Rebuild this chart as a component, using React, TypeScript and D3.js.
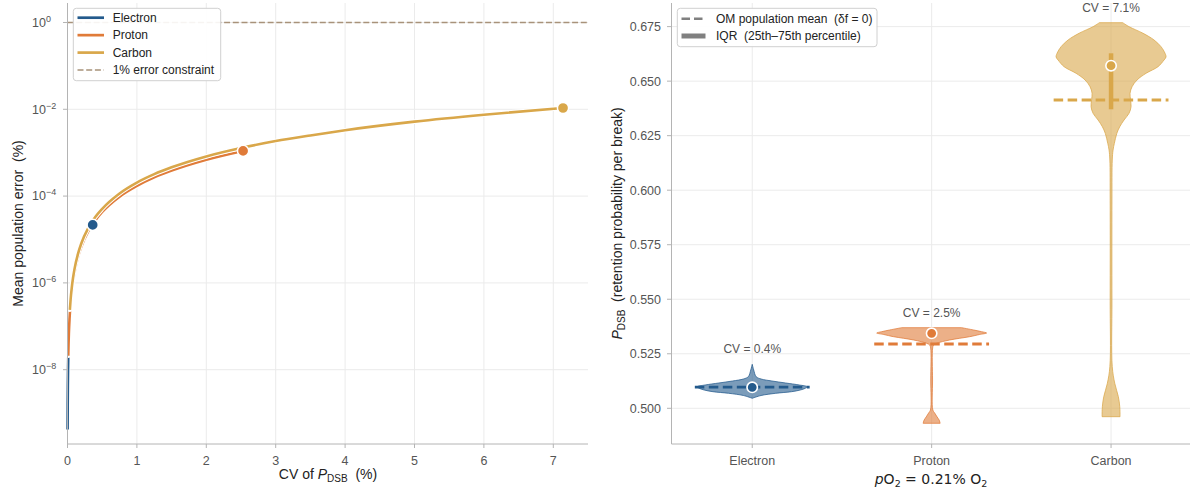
import React from 'react';
import * as d3 from 'd3';

const W = 1198, H = 495;
const FONT = '"Liberation Sans", Arial, Helvetica, sans-serif';

const species = ['Electron', 'Proton', 'Carbon'];
const colors = ['#235a8c', '#e07b39', '#d9a74a'];
const constraintColor = '#a8927a';

// ---- Left panel: mean population error vs CV ----
const electronCV = [0.0016, 0.003, 0.005, 0.008, 0.012, 0.02, 0.03, 0.05, 0.075, 0.1, 0.15, 0.2, 0.25, 0.3, 0.363];
const electronErr = [4.2e-10, 1.5e-9, 4.1e-9, 1.06e-8, 2.4e-8, 6.6e-8, 1.5e-7, 4.1e-7, 9.3e-7, 1.65e-6, 3.7e-6, 6.6e-6, 1.03e-5, 1.49e-5, 2.17e-5];

const protonCV = [0.011, 0.015, 0.02, 0.03, 0.05, 0.075, 0.1, 0.15, 0.2, 0.3, 0.4, 0.5, 0.75, 1.0, 1.25, 1.5, 2.0, 2.53];
const protonErr = [2.1e-8, 3.9e-8, 6.9e-8, 1.55e-7, 4.3e-7, 9.7e-7, 1.72e-6, 3.9e-6, 6.9e-6, 1.55e-5, 2.75e-5, 4.3e-5, 9.7e-5, 1.72e-4, 2.7e-4, 3.87e-4, 6.9e-4, 1.1e-3];

const carbonCV = [0.034, 0.045, 0.06, 0.08, 0.1, 0.15, 0.2, 0.3, 0.4, 0.5, 0.75, 1.0, 1.25, 1.5, 2.0, 2.5, 3.0, 3.5, 4.0, 5.0, 6.0, 7.14];
const carbonErr = [2.4e-7, 4.2e-7, 7.4e-7, 1.31e-6, 2.05e-6, 4.6e-6, 8.2e-6, 1.85e-5, 3.3e-5, 5.1e-5, 1.15e-4, 2.05e-4, 3.2e-4, 4.6e-4, 8.2e-4, 1.28e-3, 1.85e-3, 2.5e-3, 3.3e-3, 5.2e-3, 7.5e-3, 1.07e-2];

const constraintValue = 1.0;
const xTicksLeft = [0, 1, 2, 3, 4, 5, 6, 7];
const yTickExpLeft = [0, -2, -4, -6, -8];
const legendLeft = ['Electron', 'Proton', 'Carbon', '1% error constraint'];

// ---- Right panel: violin profiles of P_DSB ----
const electronViolinV = [0.52017, 0.51756, 0.51449, 0.51343, 0.51252, 0.5116, 0.51068, 0.5099, 0.50917, 0.50839, 0.50761, 0.50688, 0.50587, 0.50459];
const electronViolinD = [0, 1.5, 4, 9, 20, 34, 48, 56, 54, 49, 40, 24, 9, 0];

const protonViolinV = [0.53696, 0.5359, 0.53512, 0.53453, 0.53384, 0.53283, 0.53132, 0.5298, 0.52902, 0.52765, 0.51298, 0.49922, 0.49785, 0.49601, 0.49464, 0.49312];
const protonViolinD = [30, 42, 50, 55, 48, 38, 18, 5, 2, 1, 0.9, 1.2, 3, 5.5, 7.5, 8.5];

const carbonViolinV = [0.6768, 0.67497, 0.67194, 0.66887, 0.6658, 0.66277, 0.66107, 0.6597, 0.65663, 0.6536, 0.65053, 0.64745, 0.64443, 0.64136, 0.63828, 0.63526, 0.63219, 0.62911, 0.62609, 0.6215, 0.61843, 0.61385, 0.59551, 0.54966, 0.51907, 0.51146, 0.50532, 0.50073, 0.49615];
const carbonViolinD = [11.7, 18, 32, 43, 50, 54, 55, 53, 47, 35, 26, 21, 19, 19.5, 20, 18, 13, 8.7, 5.8, 3.3, 2, 1.2, 0.9, 0.9, 1.2, 3.7, 7.3, 8.7, 9];

const medians = [0.50963, 0.53439, 0.65708];
const means = [0.5097, 0.52948, 0.64136];
const q25 = [0.5093, 0.5338, 0.63709];
const q75 = [0.51, 0.5352, 0.66277];
const cvLabels = ['CV = 0.4%', 'CV = 2.5%', 'CV = 7.1%'];
const yTicksRight = [0.5, 0.525, 0.55, 0.575, 0.6, 0.625, 0.65, 0.675];
const legendRight = ['OM population mean  (δf = 0)', 'IQR  (25th–75th percentile)'];

const GRID = '#ebebeb';
const SPINE = '#b4b4b4';
const TICKTXT = '#555';

export default function App() {
  // left scales
  const xL = d3.scaleLinear().domain([0, 7.5]).range([67.5, 588]);
  const yL = d3.scaleLog().domain([Math.pow(10, -9.712), Math.pow(10, 0.449)]).range([444, 3]);
  // right scales
  const xR = d3.scaleLinear().domain([-0.45, 2.44]).range([671.5, 1190]);
  const yR = d3.scaleLinear().domain([0.48363, 0.68583]).range([444, 3]);
  const catW = xR(1) - xR(0);
  const violinHalf = 0.3064 * catW;
  const meanHalf = 0.32 * catW;

  const curves = [
    { cv: electronCV, err: electronErr },
    { cv: protonCV, err: protonErr },
    { cv: carbonCV, err: carbonErr },
  ];
  const line = d3.line<[number, number]>()
    .x((d) => xL(d[0]))
    .y((d) => yL(d[1]))
    .curve(d3.curveMonotoneX);

  const violins = [
    { v: electronViolinV, d: electronViolinD },
    { v: protonViolinV, d: protonViolinD },
    { v: carbonViolinV, d: carbonViolinD },
  ];

  const top = 3, bottom = 444;

  return (
    <svg width={W} height={H} style={{ position: 'absolute', left: 0, top: 0, background: '#fff' }} fontFamily={FONT}>
      <rect x={0} y={0} width={W} height={H} fill="#fff" />
      {/* ===== LEFT PANEL ===== */}
      <g>
        {xTicksLeft.map((t) => (
          <line key={'gx' + t} x1={xL(t)} x2={xL(t)} y1={top} y2={bottom} stroke={GRID} strokeWidth={1} />
        ))}
        {yTickExpLeft.map((e) => (
          <line key={'gy' + e} x1={67.5} x2={588} y1={yL(Math.pow(10, e))} y2={yL(Math.pow(10, e))} stroke={GRID} strokeWidth={1} />
        ))}
        <line x1={67.5} x2={588} y1={yL(constraintValue)} y2={yL(constraintValue)} stroke={constraintColor} strokeWidth={1.5} strokeDasharray="6,2.7" />
        {curves.map((c, i) => {
          const pts = c.cv.map((v, j) => [v, c.err[j]] as [number, number]);
          return (
            <g key={'c' + i}>
              <path d={line(pts) || ''} fill="none" stroke="#fff" strokeWidth={4.6} strokeLinecap="round" />
              <path d={line(pts) || ''} fill="none" stroke={colors[i]} strokeWidth={2.6} />
            </g>
          );
        })}
        {curves.map((c, i) => {
          const n = c.cv.length - 1;
          return <circle key={'dot' + i} cx={xL(c.cv[n])} cy={yL(c.err[n])} r={5.6} fill={colors[i]} stroke="#fff" strokeWidth={1.5} />;
        })}
        {/* spines */}
        <line x1={67.5} x2={67.5} y1={top} y2={bottom} stroke={SPINE} strokeWidth={1} />
        <line x1={67.5} x2={588} y1={bottom} y2={bottom} stroke={SPINE} strokeWidth={1} />
        {xTicksLeft.map((t) => (
          <g key={'xt' + t}>
            <line x1={xL(t)} x2={xL(t)} y1={bottom} y2={bottom + 4} stroke={SPINE} />
            <text x={xL(t)} y={465} textAnchor="middle" fontSize={12.5} fill={TICKTXT}>{t}</text>
          </g>
        ))}
        {yTickExpLeft.map((e) => {
          const y = yL(Math.pow(10, e));
          return (
            <g key={'yt' + e}>
              <line x1={63} x2={67.5} y1={y} y2={y} stroke={SPINE} />
              <text x={32} y={y + 4.4} textAnchor="start" fontSize={12.5} fill={TICKTXT}>
                10<tspan dy={-5} fontSize={9}>{e === 0 ? '0' : '−' + Math.abs(e)}</tspan>
              </text>
            </g>
          );
        })}
        <text transform="translate(23.3,223.5) rotate(-90)" textAnchor="middle" fontSize={14} fill="#222" xmlSpace="preserve">
          Mean population error  (%)
        </text>
        <text x={328} y={478.5} textAnchor="middle" fontSize={14} fill="#222" xmlSpace="preserve">
          CV of <tspan fontStyle="italic">P</tspan><tspan fontSize={10} dy={3}>DSB</tspan><tspan dy={-3}>  (%)</tspan>
        </text>
        {/* legend */}
        <rect x={73.3} y={8.3} width={147.4} height={72.4} rx={3} fill="#fff" fillOpacity={0.9} stroke="#d0d0d0" strokeWidth={1} />
        {legendLeft.map((lab, i) => {
          const y = 17.7 + i * 17.45;
          const isC = i === 3;
          return (
            <g key={'lg' + i}>
              <line x1={77.5} x2={104} y1={y} y2={y} stroke={isC ? constraintColor : colors[i]} strokeWidth={isC ? 1.5 : 2.7} strokeDasharray={isC ? '6,2.7' : undefined} />
              <text x={112.7} y={y + 4.2} fontSize={12} fill="#222">{lab}</text>
            </g>
          );
        })}
      </g>

      {/* ===== RIGHT PANEL ===== */}
      <g>
        {yTicksRight.map((t) => (
          <line key={'rgy' + t} x1={671.5} x2={1190} y1={yR(t)} y2={yR(t)} stroke={GRID} strokeWidth={1} />
        ))}
        {species.map((s, i) => (
          <line key={'rgx' + s} x1={xR(i)} x2={xR(i)} y1={top} y2={bottom} stroke={GRID} strokeWidth={1} />
        ))}
        {violins.map((vi, i) => {
          const cx = xR(i);
          const maxD = d3.max(vi.d) || 1;
          const pts = vi.v.map((v, j) => ({ v, w: vi.d[j] / maxD }));
          const area = d3.area<{ v: number; w: number }>()
            .y((d) => yR(d.v))
            .x0((d) => cx - d.w * violinHalf)
            .x1((d) => cx + d.w * violinHalf)
            .curve(d3.curveCatmullRom.alpha(0.5));
          return (
            <g key={'vio' + i}>
              <path d={area(pts) || ''} fill={colors[i]} fillOpacity={0.6} stroke={colors[i]} strokeOpacity={0.75} strokeWidth={1} />
              <line x1={cx} x2={cx} y1={yR(q25[i])} y2={yR(q75[i])} stroke={colors[i]} strokeWidth={4.5} />
              <line x1={cx - meanHalf} x2={cx + meanHalf} y1={yR(means[i])} y2={yR(means[i])} stroke={colors[i]} strokeWidth={2.8} strokeDasharray="9.5,4.5" />
              <circle cx={cx} cy={yR(medians[i])} r={5.2} fill={colors[i]} stroke="#fff" strokeWidth={1.6} />
              <text x={cx} y={yR(d3.max(vi.v) || 0) - 11} textAnchor="middle" fontSize={12} fill={TICKTXT}>{cvLabels[i]}</text>
            </g>
          );
        })}
        {/* spines */}
        <line x1={671.5} x2={671.5} y1={top} y2={bottom} stroke={SPINE} strokeWidth={1} />
        <line x1={671.5} x2={1190} y1={bottom} y2={bottom} stroke={SPINE} strokeWidth={1} />
        {yTicksRight.map((t) => (
          <g key={'ryt' + t}>
            <line x1={667} x2={671.5} y1={yR(t)} y2={yR(t)} stroke={SPINE} />
            <text x={661} y={yR(t) + 4.4} textAnchor="end" fontSize={12.5} fill={TICKTXT}>{t.toFixed(3)}</text>
          </g>
        ))}
        {species.map((s, i) => (
          <g key={'rxt' + s}>
            <line x1={xR(i)} x2={xR(i)} y1={bottom} y2={bottom + 4} stroke={SPINE} />
            <text x={xR(i)} y={465} textAnchor="middle" fontSize={12.5} fill={TICKTXT}>{s}</text>
          </g>
        ))}
        <text transform="translate(622,223.5) rotate(-90)" textAnchor="middle" fontSize={14} fill="#222" xmlSpace="preserve">
          <tspan fontStyle="italic">P</tspan><tspan fontSize={10} dy={3}>DSB</tspan><tspan dy={-3}>  (retention probability per break)</tspan>
        </text>
        <text x={931} y={484} textAnchor="middle" fontSize={14} fill="#222" fontFamily='"DejaVu Sans", sans-serif' xmlSpace="preserve">
          <tspan fontStyle="italic">p</tspan>O<tspan fontSize={9.5} dy={3}>2</tspan><tspan dy={-3}> = 0.21% O</tspan><tspan fontSize={9.5} dy={3}>2</tspan>
        </text>
        {/* legend */}
        <rect x={677.3} y={8.3} width={199.7} height={38.4} rx={3} fill="#fff" fillOpacity={0.9} stroke="#d0d0d0" strokeWidth={1} />
        <line x1={681.5} x2={705.5} y1={18.7} y2={18.7} stroke="#808080" strokeWidth={2.6} strokeDasharray="8.5,4" />
        <text x={716} y={22.9} fontSize={12} fill="#222" xmlSpace="preserve">{legendRight[0]}</text>
        <line x1={681.5} x2={705.5} y1={36} y2={36} stroke="#808080" strokeWidth={5} />
        <text x={716} y={40.2} fontSize={12} fill="#222" xmlSpace="preserve">{legendRight[1]}</text>
      </g>
    </svg>
  );
}
